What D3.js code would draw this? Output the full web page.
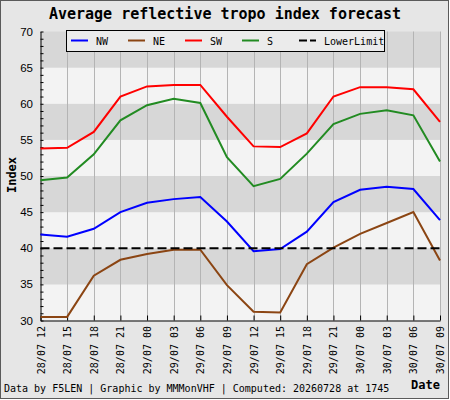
<!DOCTYPE html>
<html>
<head>
<meta charset="utf-8">
<script src="https://cdn.jsdelivr.net/npm/d3@7/dist/d3.min.js"></script>
<style>
  body { margin: 0; background: #fff; }
  text { font-family: "DejaVu Sans Mono", monospace; }
</style>
</head>
<body>
<script>
var times = ["28/07 12", "28/07 15", "28/07 18", "28/07 21",
    "29/07 00", "29/07 03", "29/07 06", "29/07 09",
    "29/07 12", "29/07 15", "29/07 18", "29/07 21",
    "30/07 00", "30/07 03", "30/07 06", "30/07 09"];

var nw = [41.9, 41.6, 42.7, 45.0, 46.3, 46.8, 47.1, 43.7, 39.6, 39.9, 42.3, 46.4, 48.1, 48.5, 48.2, 43.9];
var ne = [30.5, 30.5, 36.2, 38.4, 39.2, 39.8, 39.8, 34.9, 31.2, 31.1, 37.8, 40.1, 42.0, 43.5, 45.0, 38.3];
var sw = [53.8, 53.9, 56.1, 61.0, 62.4, 62.6, 62.6, 58.2, 54.1, 54.0, 55.9, 61.0, 62.3, 62.3, 62.0, 57.5];
var s = [49.4, 49.8, 53.0, 57.7, 59.8, 60.7, 60.1, 52.6, 48.6, 49.6, 53.1, 57.2, 58.6, 59.1, 58.4, 52.0];
var lowerLimit = 40;

var seriesNames = ["NW", "NE", "SW", "S"];
var seriesColors = ["#0000ff", "#8b4513", "#ff0000", "#228b22"];
var yTicks = [30, 35, 40, 45, 50, 55, 60, 65, 70];

var width = 450, height = 400;
var plotLeft = 40.5, plotRight = 440, plotTop = 31.5, plotBottom = 320.5;

var svg = d3.select("body").append("svg")
    .attr("width", width)
    .attr("height", height);

svg.append("rect")
    .attr("x", 0.5).attr("y", 0.5)
    .attr("width", 448).attr("height", 398)
    .attr("fill", "#e6e6e6")
    .attr("stroke", "#5a5a5a");

var x = d3.scalePoint()
    .domain(times)
    .range([plotLeft, plotRight]);

var y = d3.scaleLinear()
    .domain([30, 70])
    .range([plotBottom, plotTop]);

// alternating grey bands, dark on top
svg.selectAll(".band")
    .data(d3.range(30, 70, 5))
    .enter().append("rect")
    .attr("class", "band")
    .attr("x", plotLeft)
    .attr("width", plotRight - plotLeft)
    .attr("y", function (d) { return y(d + 5); })
    .attr("height", function (d) { return y(d) - y(d + 5); })
    .attr("fill", function (d) { return (d / 5) % 2 == 0 ? "#f3f3f3" : "#d7d7d7"; });

svg.selectAll(".vgrid")
    .data(times.slice(1))
    .enter().append("line")
    .attr("class", "vgrid")
    .attr("x1", function (d) { return Math.round(x(d)) + 0.5; })
    .attr("x2", function (d) { return Math.round(x(d)) + 0.5; })
    .attr("y1", plotTop)
    .attr("y2", plotBottom)
    .attr("stroke", "#b4b4b4");

// y axis, ticks pointing inside
var yAxis = svg.append("g")
    .attr("transform", "translate(" + plotLeft + ",0)")
    .call(d3.axisRight(y).ticks(40).tickSize(3).tickSizeOuter(0).tickFormat(""));
yAxis.select(".domain").attr("stroke", "#000");
yAxis.selectAll(".tick line").attr("stroke", "#000");

svg.selectAll(".ylab")
    .data(yTicks)
    .enter().append("text")
    .attr("class", "ylab")
    .attr("x", 33)
    .attr("y", function (d) { return y(d) + 4; })
    .attr("text-anchor", "end")
    .style("font-family", "'Liberation Sans', sans-serif")
    .style("font-size", "11.5px")
    .text(function (d) { return d; });

// x axis, ticks pointing up
var xAxis = svg.append("g")
    .attr("transform", "translate(0," + plotBottom + ")")
    .call(d3.axisTop(x).tickSize(5).tickFormat("").tickSizeOuter(0));
xAxis.select(".domain").attr("stroke", "#000");
xAxis.selectAll(".tick line").attr("stroke", "#000");

svg.selectAll(".xlab")
    .data(times)
    .enter().append("text")
    .attr("class", "xlab")
    .attr("transform", function (d) { return "translate(" + (x(d) + 4) + ",326) rotate(-90)"; })
    .attr("text-anchor", "end")
    .style("font-size", "10px")
    .text(function (d) { return d; });

var line = d3.line()
    .x(function (d, i) { return x(times[i]); })
    .y(function (d) { return y(d); });

[nw, ne, sw, s].forEach(function (values, k) {
    svg.append("path")
        .datum(values)
        .attr("fill", "none")
        .attr("stroke", seriesColors[k])
        .attr("stroke-width", 2)
        .attr("d", line);
});

svg.append("line")
    .attr("x1", plotLeft).attr("x2", plotRight)
    .attr("y1", y(lowerLimit)).attr("y2", y(lowerLimit))
    .attr("stroke", "#000")
    .attr("stroke-width", 2)
    .attr("stroke-dasharray", "9,4");

// legend
var legend = svg.append("g");
legend.append("rect")
    .attr("x", 66.5).attr("y", 30.5)
    .attr("width", 318).attr("height", 21)
    .attr("fill", "#ebebeb")
    .attr("stroke", "#000");

var legendItems = seriesNames.concat(["LowerLimit"]);
legendItems.forEach(function (name, i) {
    var lx = 71 + i * 57;
    legend.append("line")
        .attr("x1", lx).attr("x2", lx + 17)
        .attr("y1", 40.5).attr("y2", 40.5)
        .attr("stroke", i < 4 ? seriesColors[i] : "#000")
        .attr("stroke-width", 2)
        .attr("stroke-dasharray", i < 4 ? null : "8,3");
    legend.append("text")
        .attr("x", lx + 25)
        .attr("y", 44.5)
        .style("font-size", "10px")
        .text(name);
});

svg.append("text")
    .attr("x", 225).attr("y", 19)
    .attr("text-anchor", "middle")
    .style("font-size", "15px")
    .style("font-weight", "bold")
    .text("Average reflective tropo index forecast");

svg.append("text")
    .attr("transform", "translate(16,175) rotate(-90)")
    .attr("text-anchor", "middle")
    .style("font-size", "12px")
    .style("font-weight", "bold")
    .text("Index");

svg.append("text")
    .attr("x", 440).attr("y", 389)
    .attr("text-anchor", "end")
    .style("font-size", "12px")
    .style("font-weight", "bold")
    .text("Date");

svg.append("text")
    .attr("x", 4).attr("y", 392)
    .style("font-size", "10px")
    .text("Data by F5LEN | Graphic by MMMonVHF | Computed: 20260728 at 1745");
</script>
</body>
</html>
